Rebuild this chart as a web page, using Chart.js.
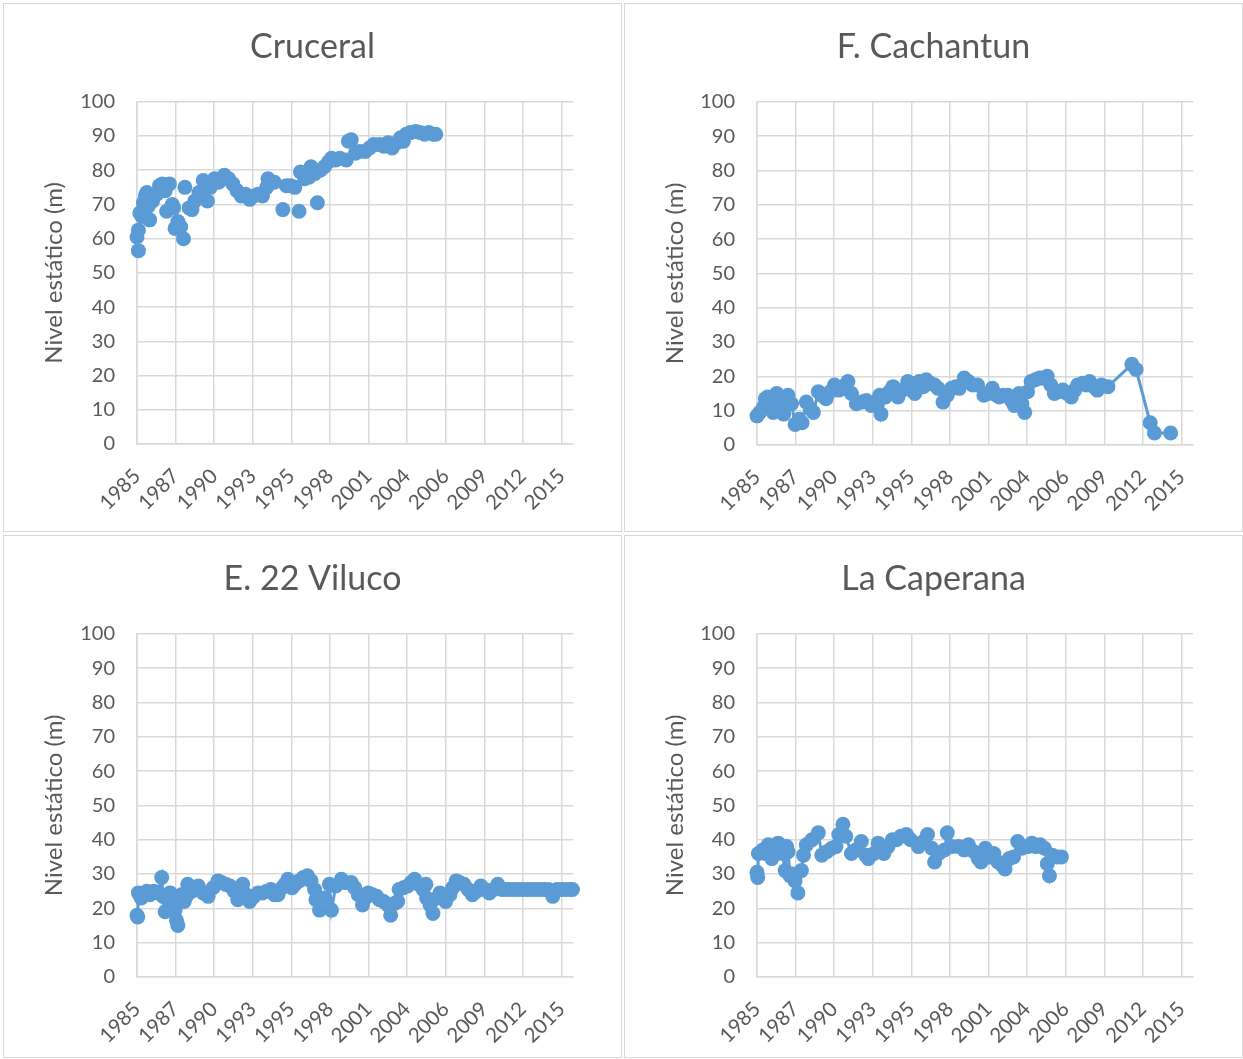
<!DOCTYPE html>
<html>
<head>
<meta charset="utf-8">
<script src="https://cdn.jsdelivr.net/npm/chart.js@4.4.1/dist/chart.umd.min.js"></script>
<style>
    body { margin: 0; background: #fff; width: 1243px; height: 1059px; overflow: hidden; position: relative; }
    .panel { position: absolute; border: 1px solid #d9d9d9; background: #fff; }
    .panel canvas { display: block; }
</style>
</head>
<body>
<div class="panel" style="left:3px;top:3px;"><canvas id="chart-cruceral" width="617" height="527"></canvas></div>
<div class="panel" style="left:624px;top:3px;"><canvas id="chart-cachantun" width="617" height="527"></canvas></div>
<div class="panel" style="left:3px;top:535px;"><canvas id="chart-viluco" width="617" height="521"></canvas></div>
<div class="panel" style="left:624px;top:535px;"><canvas id="chart-caperana" width="617" height="521"></canvas></div>

<script>
// --- Data (decimal years, static level in m) ---

const cruceralYears = [1985.0, 1985.1, 1985.1, 1985.2, 1985.35, 1985.45, 1985.6, 1985.7, 1985.8, 1985.9,
    1986.1, 1986.4, 1986.6, 1986.8, 1987.0, 1987.1, 1987.3, 1987.5, 1987.6, 1987.7, 1987.9, 1988.1, 1988.3,
    1988.4, 1988.7, 1988.9, 1989.1, 1989.4, 1989.7, 1990.0, 1990.2, 1990.5, 1990.8, 1991.2, 1991.5, 1991.8,
    1992.1, 1992.4, 1992.7, 1993.0, 1993.3, 1993.6, 1993.9, 1994.2, 1994.3, 1994.75, 1995.35, 1995.6, 1995.9,
    1996.2, 1996.5, 1996.6, 1996.9, 1997.2, 1997.35, 1997.6, 1997.8, 1998.0, 1998.3, 1998.6, 1998.8, 1999.1,
    1999.4, 1999.85, 2000.0, 2000.2, 2000.5, 2000.8, 2001.2, 2001.5, 2001.8, 2002.2, 2002.5, 2002.8, 2003.1,
    2003.4, 2003.7, 2003.9, 2004.1, 2004.4, 2004.8, 2005.1, 2005.4, 2005.7, 2006.0, 2006.2];
const cruceralLevels = [60.5, 62.5, 56.5, 67.5, 66.5, 70.5, 72.5, 73.5, 69.5, 65.5,
    71, 73, 75.5, 76, 74, 68, 76, 70, 69, 63, 65, 63.5, 60,
    75, 69, 68.5, 71, 73.5, 77, 71, 75, 77.5, 76.5, 78.5, 77.5, 76,
    74, 72.5, 73, 71.5, 72.5, 73, 72.5, 75, 77.5, 76.5, 68.5, 75.5, 75.5,
    75, 68, 79.5, 77.5, 78, 81, 79, 70.5, 80, 81, 82.5, 83.5, 83,
    83.5, 83, 88.5, 88.9, 85, 85.5, 85.5, 86.5, 87.5, 87.5, 87, 88, 86.5,
    88, 89.5, 88.5, 90.5, 91, 91.3, 91, 90.5, 91, 90.5, 90.5];

const cachantunYears = [1985.0, 1985.2, 1985.45, 1985.6, 1985.75, 1986.0, 1986.15, 1986.4, 1986.6, 1986.9,
    1987.2, 1987.45, 1987.7, 1988.0, 1988.2, 1988.5, 1988.8, 1989.0, 1989.35, 1989.6, 1989.9, 1990.2, 1990.5,
    1990.8, 1991.1, 1991.35, 1991.45, 1991.7, 1992.05, 1992.4, 1992.75, 1993.1, 1993.4, 1993.7, 1993.8, 1994.1,
    1994.4, 1994.65, 1995.0, 1995.3, 1995.7, 1995.95, 1996.2, 1996.5, 1996.8, 1997.0, 1997.3, 1997.6, 1997.85,
    1998.2, 1998.5, 1998.8, 1999.1, 1999.35, 1999.7, 2000.0, 2000.3, 2000.65, 2001.1, 2001.4, 2001.7, 2002.0,
    2002.2, 2002.5, 2002.8, 2003.05, 2003.25, 2003.6, 2003.8, 2004.0, 2004.2, 2004.45, 2004.75, 2005.05, 2005.3,
    2005.6, 2005.85, 2006.1, 2006.4, 2006.7, 2007.0, 2007.3, 2007.55, 2007.75, 2008.1, 2008.35, 2008.6, 2008.9,
    2009.15, 2009.45, 2009.9, 2011.6, 2011.9, 2012.9, 2013.2, 2014.35];
const cachantunLevels = [8.5, 9.5, 11, 13.5, 14, 12, 9.5, 15, 12.5, 9,
    14.5, 12, 6, 7.5, 6.5, 12.5, 10.5, 9.5, 15.5, 14.5, 13.5, 15.5, 17.5,
    16, 17, 16.5, 18.5, 15, 12, 12.5, 13, 11.5, 12.5, 14.5, 9, 14,
    15.5, 17, 14, 16, 18.5, 16, 15, 18.5, 17, 19, 18, 17.5, 16.5,
    12.5, 14.5, 16.5, 17, 16.5, 19.5, 18.5, 17.5, 17.5, 14.5, 15, 16.5, 14.5,
    14, 14.5, 14.5, 13, 11.5, 15, 12, 9.5, 15.5, 18.5, 19, 19.5, 19.5,
    20, 17.5, 15, 15.5, 16, 15, 14, 16, 17.5, 18, 17.5, 18.5, 17,
    16, 17.5, 17, 23.5, 22, 6.5, 3.5, 3.5];

const vilucoYears = [1985.0, 1985.05, 1985.1, 1985.3, 1985.5, 1985.7, 1985.9, 1986.2, 1986.5, 1986.75, 1986.85,
    1987.0, 1987.2, 1987.35, 1987.5, 1987.7, 1987.8, 1987.9, 1988.15, 1988.35, 1988.5, 1988.6, 1988.9, 1989.1,
    1989.35, 1989.7, 1990.05, 1990.4, 1990.75, 1991.0, 1991.3, 1991.6, 1991.9, 1992.15, 1992.3, 1992.5, 1992.75,
    1993.0, 1993.3, 1993.6, 1993.9, 1994.2, 1994.5, 1994.75, 1995.0, 1995.3, 1995.5, 1995.7, 1996.0, 1996.2,
    1996.5, 1996.8, 1997.1, 1997.35, 1997.6, 1997.7, 1997.95, 1998.3, 1998.65, 1998.8, 1999.1, 1999.5, 1999.8,
    2000.2, 2000.45, 2000.7, 2001.0, 2001.2, 2001.4, 2001.7, 2002.0, 2002.2, 2002.5, 2002.8, 2003.0, 2003.3,
    2003.5, 2003.6, 2003.9, 2004.2, 2004.45, 2004.7, 2005.0, 2005.3, 2005.5, 2005.55, 2005.8, 2006.0, 2006.3,
    2006.5, 2006.9, 2007.2, 2007.4, 2007.65, 2007.9, 2008.2, 2008.5, 2008.8, 2009.1, 2009.4, 2009.7, 2010.0,
    2010.3, 2010.6, 2010.9, 2011.2, 2011.5, 2011.8, 2012.1, 2012.4, 2012.7, 2013.0, 2013.3, 2013.6, 2013.9,
    2014.2, 2014.5, 2014.8, 2015.1, 2015.4, 2015.7, 2015.9];
const vilucoLevels = [18, 17.5, 24.5, 23, 24, 25, 24, 25, 24.5, 29, 23.5,
    19, 22.5, 24.5, 21, 19.5, 16.5, 15, 24, 22, 23.5, 27, 25, 25.5,
    26.5, 24.5, 23.5, 26, 28, 27.5, 27, 26.5, 25, 22.5, 24, 27, 24,
    22, 23.5, 24.5, 24.5, 25, 25.5, 24, 24, 26, 27, 28.5, 26, 27,
    28, 29, 29.5, 28, 25.5, 22.5, 19.5, 23, 27, 19.5, 26.5, 28.5, 27.5,
    27.5, 26, 24, 21, 23, 24.5, 24, 23.5, 22.5, 22, 21, 18, 21.5,
    22, 25.5, 26, 26.5, 27.5, 28.5, 27, 25.5, 27, 23, 21, 18.5, 23,
    24.5, 22, 24, 26, 28, 27.5, 27, 25.5, 24, 25, 26.5, 25.5, 24.5,
    25.5, 27, 25.5, 25.5, 25.5, 25.5, 25.5, 25.5, 25.5, 25.5, 25.5, 25.5, 25.5,
    25.5, 23.5, 25.5, 25.5, 25.5, 25.5, 25.5];

const caperanaYears = [1985.0, 1985.05, 1985.1, 1985.4, 1985.6, 1985.8, 1986.05, 1986.3, 1986.5, 1986.8,
    1987.0, 1987.1, 1987.2, 1987.35, 1987.55, 1987.7, 1987.9, 1988.15, 1988.3, 1988.5, 1988.9, 1989.35, 1989.6,
    1989.95, 1990.3, 1990.6, 1990.8, 1991.1, 1991.3, 1991.7, 1992.0, 1992.4, 1992.7, 1992.9, 1993.3, 1993.6,
    1994.0, 1994.3, 1994.6, 1994.9, 1995.2, 1995.6, 1995.9, 1996.45, 1996.8, 1997.1, 1997.4, 1997.6, 1997.9,
    1998.3, 1998.5, 1998.8, 1999.3, 1999.7, 2000.0, 2000.4, 2000.7, 2000.9, 2001.2, 2001.5, 2001.8, 2002.1,
    2002.4, 2002.6, 2002.9, 2003.2, 2003.5, 2003.8, 2004.2, 2004.5, 2004.8, 2005.1, 2005.4, 2005.6, 2005.75,
    2005.95, 2006.3, 2006.6];
const caperanaLevels = [30.5, 29, 36, 37, 36, 38.5, 34.5, 38, 39, 36,
    31, 38, 36.5, 29.5, 30, 28, 24.5, 31, 35.5, 38.5, 40, 42, 35.5,
    36.5, 37.5, 38, 41.5, 44.5, 41, 36, 37, 39.5, 35.5, 34.5, 36, 39,
    36, 38, 40, 40, 41, 41.5, 40, 38, 39.5, 41.5, 37.5, 33.5, 36,
    37, 42, 38, 38, 37, 38.5, 36.5, 34.5, 33.5, 37.5, 35, 36, 33.5,
    32.5, 31.5, 34.5, 35, 39.5, 37.5, 38, 39, 38, 38.5, 37.5, 33, 29.5,
    35.5, 35, 35];

// date axis: one major unit = 1000 days, starting Jan 1985
const xStep = 1000 / 365.25;
const xMin = 1985;
const xMax = 1985 + 11.3 * xStep;
const xTickValues = Array.from({ length: 12 }, (_, i) => xMin + i * xStep);
const yMin = 0, yMax = 100, yStep = 10;

const FONT = 'Lato, "Open Sans", "Liberation Sans", sans-serif';
const TEXT_COLOR = '#595959';
const GRID_COLOR = '#d9d9d9';
const BLUE = '#5b9bd5';

function makeChart(id, title, years, levels, showLine, plot) {
    const canvas = document.getElementById(id);
    const W = canvas.width, H = canvas.height;
    const points = years.map((x, i) => ({ x: x, y: levels[i] }));

    return new Chart(canvas, {
        type: 'scatter',
        data: {
            datasets: [{
                data: points,
                showLine: showLine,
                borderColor: BLUE,
                borderWidth: 3,
                pointRadius: 7.5,
                pointHoverRadius: 7.5,
                pointBackgroundColor: BLUE,
                pointBorderColor: BLUE,
                pointBorderWidth: 0,
                clip: false
            }]
        },
        options: {
            responsive: false,
            animation: false,
            events: [],
            layout: { padding: 0 },
            plugins: {
                legend: { display: false },
                tooltip: { enabled: false },
                title: {
                    display: true,
                    text: title,
                    color: TEXT_COLOR,
                    font: { family: FONT, size: 34, weight: 'normal', lineHeight: 1.2 },
                    padding: { top: 23, bottom: plot.top - 64 }
                }
            },
            scales: {
                x: {
                    type: 'linear',
                    min: xMin,
                    max: xMax,
                    afterBuildTicks: (s) => { s.ticks = xTickValues.map(v => ({ value: v })); },
                    afterFit: (s) => { s.height = H - plot.bottom; },
                    grid: { color: GRID_COLOR, lineWidth: 1.5, drawTicks: false },
                    border: { color: GRID_COLOR, width: 1.5 },
                    ticks: {
                        autoSkip: false,
                        minRotation: 45,
                        maxRotation: 45,
                        padding: 20,
                        color: TEXT_COLOR,
                        font: { family: FONT, size: 20.5 },
                        callback: (v) => String(Math.floor(v + 1e-6))
                    }
                },
                y: {
                    min: yMin,
                    max: yMax,
                    afterFit: (s) => { s.width = plot.left; },
                    grid: { color: GRID_COLOR, lineWidth: 1.5, drawTicks: false },
                    border: { color: GRID_COLOR, width: 1.5 },
                    ticks: {
                        stepSize: yStep,
                        padding: 22,
                        color: TEXT_COLOR,
                        font: { family: FONT, size: 20 }
                    },
                    title: {
                        display: true,
                        text: 'Nivel estático (m)',
                        color: TEXT_COLOR,
                        font: { family: FONT, size: 24, weight: 'normal' },
                        padding: { top: 36, bottom: 0 }
                    }
                },
                // empty right-hand box that keeps the plot narrower without moving the title
                spacer: {
                    type: 'linear',
                    position: 'right',
                    min: 0,
                    max: 1,
                    afterFit: (s) => { s.width = W - plot.right; },
                    grid: { display: false },
                    border: { display: false },
                    ticks: { display: false }
                }
            }
        }
    });
}

makeChart('chart-cruceral', 'Cruceral', cruceralYears, cruceralLevels, false, { left: 133, right: 569, top: 98, bottom: 440 });
makeChart('chart-cachantun', 'F. Cachantun', cachantunYears, cachantunLevels, true, { left: 132, right: 568, top: 98, bottom: 441 });
makeChart('chart-viluco', 'E. 22 Viluco', vilucoYears, vilucoLevels, true, { left: 133, right: 569, top: 98, bottom: 441 });
makeChart('chart-caperana', 'La Caperana', caperanaYears, caperanaLevels, true, { left: 132, right: 568, top: 98, bottom: 441 });
</script>
</body>
</html>
